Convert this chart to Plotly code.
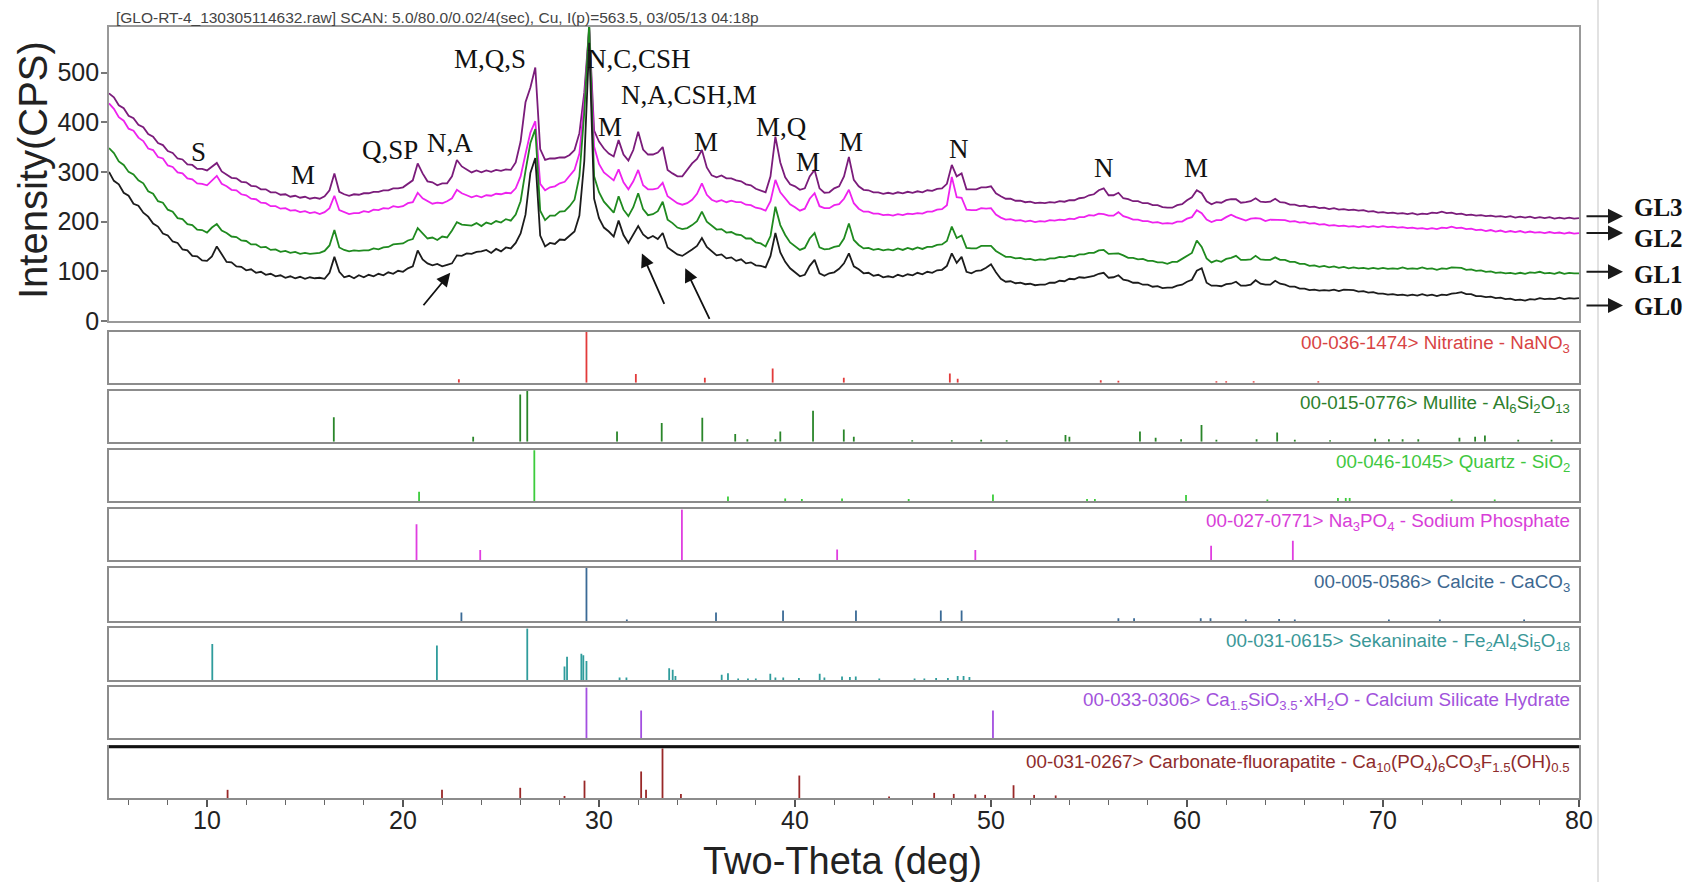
import numpy as np
import plotly.graph_objects as go

# ---------------- diffraction scans, 2-theta step 0.25 deg ----------------
two_theta = np.round(np.arange(5.0, 80.0 + 1e-9, 0.25), 2)

gl0 = [
    300, 282, 275, 258, 252, 236, 232, 218, 210, 196, 190, 176, 172, 160, 157, 144, 142, 131, 130, 122,  # 5
    121, 130, 150, 134, 119, 118, 110, 109, 102, 104, 97, 99, 93, 95, 90, 92, 87, 90, 86, 89,  # 10
    85, 88, 86, 87, 85, 97, 129, 99, 88, 91, 86, 92, 88, 93, 90, 95, 92, 98, 95, 101,  # 15
    99, 106, 110, 142, 124, 116, 112, 115, 110, 113, 116, 132, 131, 136, 135, 139, 140, 143, 137, 145,  # 20
    140, 148, 146, 157, 176, 214, 298, 328, 172, 150, 157, 155, 164, 163, 172, 180, 212, 322, 560, 246,  # 25
    207, 188, 180, 170, 202, 173, 157, 174, 191, 174, 166, 171, 165, 177, 148, 141, 134, 131, 137, 144,  # 30
    151, 167, 149, 141, 132, 134, 126, 128, 121, 124, 116, 118, 112, 111, 108, 131, 177, 138, 119, 106,  # 35
    97, 90, 93, 111, 123, 96, 91, 96, 98, 105, 116, 136, 110, 104, 96, 97, 91, 93, 88, 90,  # 40
    88, 93, 90, 94, 92, 97, 94, 99, 97, 102, 103, 111, 136, 117, 129, 99, 96, 101, 102, 107,  # 45
    114, 98, 85, 79, 80, 76, 77, 74, 75, 72, 73, 73, 77, 77, 81, 80, 85, 84, 88, 87,  # 50
    89, 91, 95, 97, 87, 88, 92, 83, 81, 77, 77, 73, 73, 69, 70, 66, 67, 67, 71, 73,  # 55
    79, 83, 101, 106, 77, 71, 71, 70, 74, 75, 79, 71, 71, 73, 82, 75, 73, 73, 81, 75,  # 60
    73, 69, 69, 65, 65, 62, 63, 61, 62, 61, 63, 60, 63, 62, 62, 59, 60, 57, 58, 55,  # 65
    55, 53, 54, 52, 53, 51, 53, 51, 54, 51, 53, 50, 53, 52, 55, 56, 58, 54, 54, 50,  # 70
    50, 48, 49, 46, 47, 44, 45, 42, 43, 41, 44, 43, 46, 44, 45, 44, 47, 44, 46, 45,  # 75
    46,
]

gl1 = [
    348, 338, 321, 314, 300, 295, 283, 277, 261, 256, 241, 238, 224, 220, 207, 205, 195, 193, 184, 183,
    178, 188, 195, 182, 177, 170, 169, 162, 161, 154, 154, 148, 149, 143, 144, 139, 141, 137, 139, 135,
    137, 135, 136, 137, 141, 152, 183, 148, 143, 140, 142, 141, 142, 142, 146, 144, 148, 149, 154, 155,
    156, 162, 165, 187, 176, 166, 168, 163, 170, 168, 182, 199, 194, 193, 192, 197, 191, 198, 195, 201,
    198, 205, 202, 214, 241, 302, 358, 386, 222, 203, 212, 212, 220, 221, 231, 244, 291, 420, 600, 291,
    259, 240, 229, 218, 251, 224, 211, 229, 257, 225, 213, 215, 221, 240, 204, 197, 188, 185, 187, 193,
    201, 220, 200, 191, 184, 185, 178, 179, 174, 173, 166, 166, 158, 156, 150, 171, 230, 193, 173, 158,
    151, 143, 147, 166, 177, 148, 144, 145, 149, 151, 166, 196, 163, 153, 146, 147, 143, 145, 142, 144,
    142, 146, 143, 147, 144, 148, 145, 149, 149, 153, 154, 161, 190, 167, 172, 147, 146, 146, 151, 151,
    151, 141, 135, 129, 129, 126, 127, 124, 125, 122, 124, 123, 126, 126, 129, 128, 131, 130, 134, 134,
    137, 137, 142, 143, 135, 135, 136, 132, 127, 127, 124, 125, 121, 121, 118, 118, 115, 119, 119, 125,
    131, 137, 162, 149, 126, 118, 122, 119, 125, 127, 131, 123, 123, 124, 131, 124, 123, 123, 128, 123,
    123, 119, 119, 115, 115, 111, 112, 109, 111, 108, 110, 107, 109, 106, 108, 106, 107, 105, 107, 105,
    107, 105, 106, 105, 108, 105, 106, 105, 108, 105, 106, 103, 106, 105, 108, 107, 107, 103, 104, 101,
    102, 99, 100, 97, 98, 96, 97, 95, 97, 95, 98, 97, 99, 96, 97, 95, 98, 95, 97, 96,
    96,
]

gl2 = [
    438, 427, 410, 403, 387, 383, 369, 362, 347, 344, 330, 327, 313, 310, 299, 297, 287, 285, 277, 276,
    273, 282, 292, 276, 271, 264, 263, 255, 253, 246, 245, 238, 237, 231, 231, 226, 227, 222, 223, 219,
    221, 217, 219, 215, 219, 227, 252, 223, 219, 215, 217, 217, 221, 219, 224, 223, 227, 226, 231, 229,
    231, 237, 239, 258, 247, 241, 236, 238, 237, 241, 247, 264, 257, 253, 249, 252, 249, 253, 252, 256,
    255, 258, 257, 267, 291, 336, 379, 402, 276, 263, 269, 271, 277, 280, 291, 304, 337, 440, 585, 351,
    316, 299, 291, 283, 305, 279, 265, 281, 304, 273, 265, 265, 267, 278, 251, 244, 237, 234, 237, 244,
    256, 277, 254, 244, 240, 243, 239, 242, 239, 239, 234, 233, 228, 226, 222, 241, 284, 259, 246, 235,
    229, 222, 226, 246, 257, 231, 227, 227, 233, 235, 246, 264, 237, 226, 220, 220, 216, 216, 213, 214,
    212, 215, 213, 216, 215, 217, 216, 220, 220, 224, 225, 233, 290, 249, 248, 224, 223, 223, 227, 226,
    227, 214, 208, 204, 205, 202, 203, 200, 202, 199, 201, 200, 203, 202, 204, 203, 206, 205, 209, 209,
    213, 212, 216, 215, 212, 212, 219, 211, 208, 204, 204, 201, 201, 198, 199, 196, 197, 196, 200, 200,
    206, 209, 223, 217, 204, 199, 203, 203, 209, 214, 209, 206, 202, 206, 207, 206, 201, 204, 204, 204,
    203, 200, 201, 198, 199, 196, 197, 194, 195, 192, 193, 191, 192, 190, 191, 189, 191, 189, 191, 189,
    191, 189, 190, 188, 189, 187, 188, 186, 187, 185, 187, 185, 188, 187, 190, 187, 188, 185, 186, 183,
    184, 181, 183, 180, 182, 179, 181, 179, 181, 178, 180, 178, 179, 177, 179, 177, 178, 176, 178, 176,
    177,
]

gl3 = [
    458, 450, 434, 428, 413, 408, 395, 390, 376, 371, 358, 354, 342, 338, 327, 325, 315, 314, 306, 306,
    303, 310, 318, 301, 295, 288, 287, 280, 279, 272, 271, 265, 265, 259, 259, 254, 255, 250, 252, 248,
    250, 246, 248, 246, 251, 263, 297, 260, 255, 252, 255, 254, 257, 257, 260, 260, 263, 263, 267, 267,
    269, 276, 283, 317, 297, 281, 279, 273, 277, 277, 291, 324, 311, 305, 299, 303, 299, 303, 300, 304,
    302, 305, 304, 319, 361, 440, 470, 510, 346, 324, 327, 327, 329, 329, 334, 344, 378, 460, 590, 383,
    361, 347, 337, 331, 364, 335, 323, 344, 381, 345, 335, 335, 339, 350, 304, 297, 291, 291, 304, 317,
    326, 344, 309, 293, 289, 293, 287, 287, 283, 281, 275, 273, 266, 263, 259, 291, 371, 319, 289, 275,
    271, 264, 267, 291, 304, 267, 258, 259, 267, 271, 291, 330, 284, 271, 264, 263, 259, 259, 256, 258,
    256, 259, 257, 260, 258, 261, 259, 263, 262, 266, 267, 276, 314, 291, 297, 265, 265, 265, 269, 269,
    271, 257, 251, 246, 246, 242, 242, 239, 240, 237, 238, 237, 239, 238, 241, 240, 243, 243, 247, 248,
    253, 255, 263, 267, 253, 253, 258, 247, 245, 241, 241, 237, 237, 233, 233, 229, 228, 228, 233, 235,
    243, 249, 263, 257, 241, 235, 239, 238, 243, 245, 245, 238, 239, 241, 247, 240, 239, 240, 246, 239,
    238, 234, 234, 231, 232, 229, 230, 227, 228, 225, 227, 224, 225, 223, 224, 222, 223, 220, 221, 218,
    219, 217, 218, 216, 217, 215, 217, 214, 216, 215, 218, 217, 220, 217, 218, 215, 216, 213, 214, 212,
    213, 211, 212, 210, 211, 209, 211, 208, 210, 208, 210, 207, 209, 207, 209, 206, 208, 206, 208, 206,
    207,
]

scan_names = ["GL3", "GL2", "GL1", "GL0"]
scan_values = [gl3, gl2, gl1, gl0]
scan_colors = ["#7b1c7b", "#ee22ee", "#1f8a1f", "#1c1c1c"]
# CPS level where each scan label arrow points / where the label text sits
scan_arrow_cps = [211, 177, 99, 31]
scan_text_cps = [229, 166, 93, 30]

# ---------------- peak assignments on the scans ----------------
peak_labels = ["S", "M", "Q,SP", "N,A", "M,Q,S", "N,C,CSH", "N,A,CSH,M", "M", "M",
               "M,Q", "M", "M", "N", "N", "M"]
peak_label_theta = [9.56, 14.90, 19.34, 22.41, 24.44, 32.05, 34.61, 30.57, 35.45,
                    39.30, 40.68, 42.88, 48.39, 55.79, 60.44]
peak_label_cps = [341, 294, 344, 358, 527, 527, 455, 391, 361,
                  391, 320, 361, 347, 307, 307]

# amorphous-hump arrows: head position (2theta, CPS)
hump_arrow_theta = [22.41, 32.19, 34.40]
hump_arrow_cps = [97, 136, 106]

# ---------------- reference patterns: 2theta and relative intensity (%) ----------------
nitratine_pos = [22.85, 29.36, 31.88, 35.4, 38.86, 42.49, 47.9, 48.3, 55.6, 56.5, 61.5, 62.0, 63.4, 66.7]
nitratine_int = [7, 100, 17, 10, 28, 10, 18, 8, 5, 4, 3, 3, 3, 3]

mullite_pos = [16.47, 23.58, 25.98, 26.34, 30.92, 33.2, 35.27, 36.95, 37.57, 39.0, 39.25, 40.92,
               42.49, 43.0, 45.98, 48.0, 49.5, 50.8, 53.8, 54.0, 57.6, 58.4, 59.7, 60.74, 61.5,
               63.55, 64.6, 65.5, 67.3, 69.6, 70.3, 71.0, 71.8, 73.9, 74.7, 75.2, 76.9, 78.6]
mullite_int = [48, 10, 93, 100, 20, 37, 47, 15, 5, 5, 20, 61,
               24, 10, 3, 3, 4, 3, 13, 10, 20, 8, 5, 33, 4,
               5, 18, 4, 3, 6, 5, 5, 5, 8, 10, 12, 4, 4]

quartz_pos = [20.82, 26.7, 36.58, 39.5, 40.35, 42.4, 45.8, 50.1, 54.9, 55.3, 59.95, 64.1,
              67.7, 68.1, 68.3, 73.5, 75.7]
quartz_int = [18, 100, 9, 5, 4, 5, 4, 13, 4, 4, 12, 3, 6, 6, 6, 3, 3]

na3po4_pos = [20.69, 23.94, 34.23, 42.15, 49.2, 61.23, 65.4]
na3po4_int = [71, 20, 100, 21, 20, 28, 38]

calcite_pos = [22.98, 29.36, 31.42, 35.97, 39.39, 43.11, 47.44, 48.5, 56.5, 57.3, 60.7, 61.2,
               63.0, 64.7, 65.5, 70.3, 72.9, 77.2]
calcite_int = [16, 100, 3, 16, 20, 20, 20, 20, 5, 5, 5, 5, 3, 4, 3, 3, 3, 3]

sekaninaite_pos = [10.27, 21.73, 26.34, 28.24, 28.37, 29.1, 29.2, 29.36, 31.05, 31.4, 33.58,
                   33.76, 33.9, 36.26, 36.58, 37.1, 37.6, 38.0, 38.74, 39.0, 39.4, 40.2, 41.26,
                   41.5, 42.4, 42.8, 43.1, 44.3, 46.1, 46.6, 47.2, 47.8, 48.3, 48.6, 48.9]
sekaninaite_int = [70, 67, 100, 26, 45, 51, 48, 37, 5, 5, 23,
                   20, 8, 10, 13, 3, 3, 3, 12, 5, 5, 4, 12,
                   5, 7, 6, 7, 3, 3, 3, 4, 4, 8, 8, 6]

csh_pos = [29.36, 32.15, 50.1]
csh_int = [100, 55, 55]

cfa_pos = [11.05, 21.99, 25.98, 28.24, 29.26, 32.15, 32.4, 33.24, 34.18, 40.22, 44.8, 47.1,
           48.1, 49.2, 49.7, 51.15, 52.2, 53.3]
cfa_int = [16, 16, 20, 4, 34, 52, 16, 97, 8, 44, 3, 10, 8, 7, 6, 25, 6, 5]

phase_labels = [
    "00-036-1474> Nitratine - NaNO<sub>3</sub>",
    "00-015-0776> Mullite - Al<sub>6</sub>Si<sub>2</sub>O<sub>13</sub>",
    "00-046-1045> Quartz - SiO<sub>2</sub>",
    "00-027-0771> Na<sub>3</sub>PO<sub>4</sub> - Sodium Phosphate",
    "00-005-0586> Calcite - CaCO<sub>3</sub>",
    "00-031-0615> Sekaninaite - Fe<sub>2</sub>Al<sub>4</sub>Si<sub>5</sub>O<sub>18</sub>",
    "00-033-0306> Ca<sub>1.5</sub>SiO<sub>3.5</sub>·xH<sub>2</sub>O - Calcium Silicate Hydrate",
    "00-031-0267> Carbonate-fluorapatite - Ca<sub>10</sub>(PO<sub>4</sub>)<sub>6</sub>CO<sub>3</sub>F<sub>1.5</sub>(OH)<sub>0.5</sub>",
]
phase_pos = [nitratine_pos, mullite_pos, quartz_pos, na3po4_pos, calcite_pos,
             sekaninaite_pos, csh_pos, cfa_pos]
phase_int = [nitratine_int, mullite_int, quartz_int, na3po4_int, calcite_int,
             sekaninaite_int, csh_int, cfa_int]
phase_colors = ["#e23b3b", "#2a862a", "#3ccc3c", "#e03ee0", "#3a6a96", "#2f9c9c", "#a34fe0", "#992828"]
phase_text_colors = ["#d84444", "#2d7f2d", "#3fc83f", "#d83ed8", "#3d6890", "#3a9898", "#a253dc", "#8e2c2c"]

title_text = "[GLO-RT-4_130305114632.raw] SCAN: 5.0/80.0/0.02/4(sec), Cu, I(p)=563.5, 03/05/13 04:18p"

# ---------------- page geometry ----------------
W, H = 1694, 882
ML, MR, MT, MB = 109, 115, 27, 84
PW, PH = W - ML - MR, H - MT - MB


def paper_y(px):
    return (H - MB - px) / PH


def paper_x(px):
    return (px - ML) / PW


# top / bottom pixel edge of each stacked panel
panel_px = [(27, 321), (331.7, 382.7), (390.7, 441.7), (450, 501), (509.3, 560),
            (567.7, 621), (628.3, 680), (687.3, 738.3), (746.7, 798)]
label_drop_px = [12, 13.5, 13, 13, 15, 14, 13.5, 16]

SANS = "Liberation Sans, Arial, sans-serif"
SERIF = "Liberation Serif, Times New Roman, serif"
FRAME = "#8c8c8c"

fig = go.Figure()

for name, vals, col in zip(scan_names, scan_values, scan_colors):
    fig.add_trace(go.Scatter(x=two_theta, y=vals, mode="lines", name=name,
                             line=dict(color=col, width=1.8), xaxis="x", yaxis="y",
                             showlegend=False, hoverinfo="skip"))

for k, (pos, inten, col) in enumerate(zip(phase_pos, phase_int, phase_colors)):
    xs, ys = [], []
    for p, h in zip(pos, inten):
        xs += [p, p, None]
        ys += [0, h, None]
    fig.add_trace(go.Scatter(x=xs, y=ys, mode="lines", line=dict(color=col, width=1.8),
                             xaxis=f"x{k + 2}", yaxis=f"y{k + 2}", showlegend=False,
                             hoverinfo="skip"))

layout = dict(
    width=W, height=H,
    margin=dict(l=ML, r=MR, t=MT, b=MB, pad=0),
    paper_bgcolor="white", plot_bgcolor="white",
    showlegend=False,
    font=dict(family=SANS, color="#222"),
)

for i, (top, bot) in enumerate(panel_px):
    xk = "xaxis" if i == 0 else f"xaxis{i + 1}"
    yk = "yaxis" if i == 0 else f"yaxis{i + 1}"
    ya = "y" if i == 0 else f"y{i + 1}"
    last = i == len(panel_px) - 1
    xax = dict(domain=[0, 1], range=[5, 80], anchor=ya, showgrid=False, zeroline=False,
               showline=True, mirror=True, linecolor=FRAME, linewidth=2,
               showticklabels=False, ticks="", fixedrange=True)
    if i > 0:
        xax["matches"] = "x"
    if last:
        xax.update(showticklabels=True, tickvals=[10, 20, 30, 40, 50, 60, 70, 80],
                   ticks="outside", ticklen=7, tickwidth=1.5, tickcolor="#555",
                   ticklabelstandoff=-8,
                   tickfont=dict(size=25, family=SANS, color="#222"),
                   minor=dict(tickvals=list(range(6, 80, 2)), ticks="outside", ticklen=5,
                              tickwidth=1.2, tickcolor="#666"))
    yax = dict(domain=[paper_y(bot), paper_y(top)], anchor="x" if i == 0 else f"x{i + 1}",
               showgrid=False, zeroline=False, showline=True, mirror=True,
               linecolor=FRAME, linewidth=2, fixedrange=True)
    if i == 0:
        yax.update(range=[0, (321 - 27) / 0.497], tickvals=[0, 100, 200, 300, 400, 500],
                   ticks="outside", ticklen=6, tickwidth=1.5, tickcolor="#777",
                   ticklabelstandoff=-3,
                   tickfont=dict(size=25, family=SANS, color="#222"), linewidth=1.6,
                   linecolor="#999")
        xax.update(linewidth=1.6, linecolor="#999")
    else:
        yax.update(range=[0, 100.5], showticklabels=False, ticks="")
    layout[xk] = xax
    layout[yk] = yax

annotations = []

# peak assignment letters
for txt, th, c in zip(peak_labels, peak_label_theta, peak_label_cps):
    annotations.append(dict(x=th, y=c, xref="x", yref="y", text=txt, showarrow=False,
                            font=dict(family=SERIF, size=27, color="#111"),
                            xanchor="center", yanchor="middle"))

# arrows marking the amorphous humps
for th, c, (dx, dy) in zip(hump_arrow_theta, hump_arrow_cps, [(-28, 34), (23, 52), (25, 52)]):
    annotations.append(dict(x=th, y=c, xref="x", yref="y", ax=dx, ay=dy, text="",
                            showarrow=True, arrowhead=2, arrowsize=1.5, arrowwidth=1.8,
                            arrowcolor="#111"))

# scan name arrows and labels at the right edge
for name, ca, ct in zip(scan_names, scan_arrow_cps, scan_text_cps):
    annotations.append(dict(x=paper_x(1623), y=ca, xref="paper", yref="y", ax=-38, ay=0,
                            text="", showarrow=True, arrowhead=2, arrowsize=1.5,
                            arrowwidth=2, arrowcolor="#1a1a1a"))
    annotations.append(dict(x=paper_x(1632), y=ct, xref="paper", yref="y",
                            text=f"<b>{name}</b>",
                            showarrow=False, xanchor="left", yanchor="middle",
                            font=dict(family=SERIF, size=25, color="#111")))

# reference-card captions
for k, (txt, col) in enumerate(zip(phase_labels, phase_text_colors)):
    top, bot = panel_px[k + 1]
    annotations.append(dict(x=0.995, y=1 - label_drop_px[k] / (bot - top),
                            xref=f"x{k + 2} domain", yref=f"y{k + 2} domain",
                            text=txt, showarrow=False, xanchor="right", yanchor="middle",
                            font=dict(family=SANS, size=18.8, color=col)))

# scan header, axis titles
annotations.append(dict(x=paper_x(114), y=paper_y(17), xref="paper", yref="paper",
                        text=title_text, showarrow=False, xanchor="left", yanchor="middle",
                        font=dict(family=SANS, size=15.5, color="#444")))
annotations.append(dict(x=paper_x(33), y=paper_y(170), xref="paper", yref="paper",
                        text="Intensity(CPS)", showarrow=False, textangle=-90,
                        xanchor="center", yanchor="middle",
                        font=dict(family=SANS, size=40, color="#222")))
annotations.append(dict(x=paper_x(842), y=paper_y(861), xref="paper", yref="paper",
                        text="Two-Theta (deg)", showarrow=False,
                        xanchor="center", yanchor="middle",
                        font=dict(family=SANS, size=38, color="#222")))

layout["annotations"] = annotations

layout["shapes"] = [
    # heavy rule on top of the last reference card
    dict(type="line", xref="paper", yref="paper", x0=0, x1=1,
         y0=paper_y(panel_px[-1][0]), y1=paper_y(panel_px[-1][0]),
         line=dict(color="#111", width=3)),
    # faint page divider on the right
    dict(type="line", xref="paper", yref="paper", x0=paper_x(1598), x1=paper_x(1598),
         y0=paper_y(H), y1=paper_y(0), line=dict(color="#e2e2e2", width=2)),
]

fig.update_layout(**layout)
fig.write_html("out.html")
